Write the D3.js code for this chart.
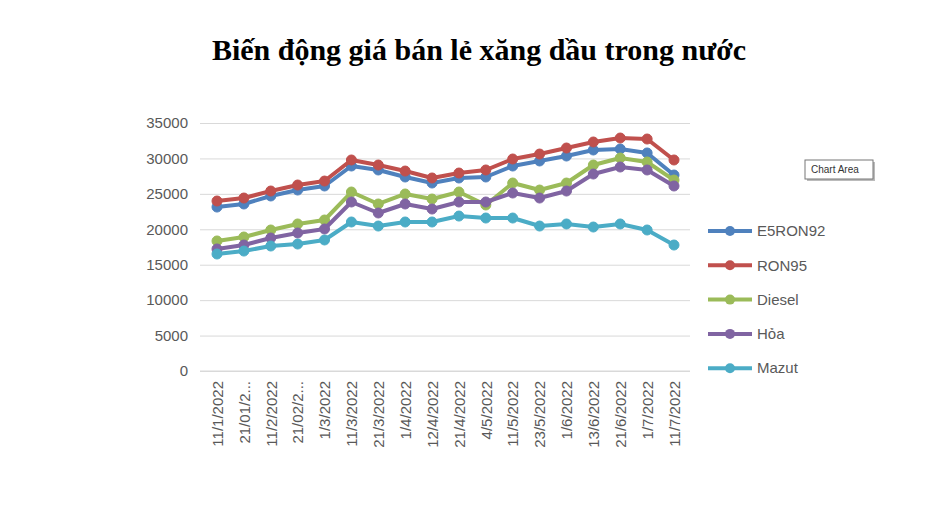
<!DOCTYPE html>
<html><head><meta charset="utf-8">
<script src="https://cdn.jsdelivr.net/npm/d3@7"></script>
<style>
body{margin:0;background:#fff}
text{font-family:"Liberation Sans",Arial,sans-serif}
</style></head><body>
<svg id="chart" width="925" height="516"></svg>
<script>
var categories = ["11/1/2022","21/01/2...","11/2/2022","21/02/2...","1/3/2022","11/3/2022","21/3/2022","1/4/2022","12/4/2022","21/4/2022","4/5/2022","11/5/2022","23/5/2022","1/6/2022","13/6/2022","21/6/2022","1/7/2022","11/7/2022"];
var e5ron92 = [23140,23570,24700,25540,26110,28930,28370,27380,26530,27240,27380,28930,29640,30340,31190,31330,30770,27660];
var ron95 = [23990,24410,25400,26250,26810,29780,29070,28220,27240,27940,28370,29920,30620,31470,32320,32880,32740,29780];
var diesel = [18350,18910,19900,20750,21310,25260,23570,24980,24270,25260,23430,26530,25540,26530,29070,30060,29500,26950];
var hoa = [17220,17780,18770,19480,20040,23850,22300,23570,22860,23850,23850,25120,24410,25400,27800,28790,28370,26110];
var mazut = [16510,16930,17640,17920,18490,21030,20460,21030,21030,21870,21590,21590,20460,20750,20320,20750,19900,17780];
var seriesNames = ["E5RON92","RON95","Diesel","Hỏa","Mazut"];
var colors = ["#4F81BD","#C0504D","#9BBB59","#8064A2","#4BACC6"];
var yTicks = [0,5000,10000,15000,20000,25000,30000,35000];

var svg = d3.select("#chart");
var series = [e5ron92, ron95, diesel, hoa, mazut];

svg.append("text").attr("x",479).attr("y",60).attr("text-anchor","middle")
  .style("font-family","'Liberation Serif','Times New Roman',serif")
  .style("font-weight","bold").style("font-size","30px").text("Biến động giá bán lẻ xăng dầu trong nước");

var x = d3.scalePoint().domain(categories).range([217,674]);
var y = d3.scaleLinear().domain([0,35000]).range([371,123]);

var gy = svg.append("g").attr("transform","translate(200,0)")
  .call(d3.axisLeft(y).tickValues(yTicks).tickFormat(d3.format("d")).tickSize(-490).tickPadding(12));
gy.select(".domain").remove();
gy.selectAll(".tick line").attr("stroke","#d9d9d9");
gy.selectAll(".tick text").attr("fill","#595959").style("font-size","15px");

var gx = svg.append("g").attr("transform","translate(0,371)")
  .call(d3.axisBottom(x).tickSize(0).tickPadding(0));
gx.select(".domain").attr("stroke","#d9d9d9").attr("d","M200,0H690");
gx.selectAll(".tick text").attr("fill","#595959").style("font-size","15px")
  .attr("text-anchor","end").attr("transform","rotate(-90)").attr("x",-10).attr("y",0).attr("dy","0.35em");

var line = d3.line().x(function(d,i){return x(categories[i]);}).y(function(d){return y(d);});
series.forEach(function(s,k){
  svg.append("path").datum(s).attr("d",line).attr("fill","none")
    .attr("stroke",colors[k]).attr("stroke-width",4).attr("stroke-linejoin","round");
  svg.selectAll(null).data(s).enter().append("circle")
    .attr("cx",function(d,i){return x(categories[i]);}).attr("cy",function(d){return y(d);})
    .attr("r",5).attr("fill",colors[k]).attr("stroke",colors[k]);
});

var leg = svg.append("g");
seriesNames.forEach(function(n,k){
  var ly = 231 + k*34.3;
  leg.append("line").attr("x1",708).attr("x2",752).attr("y1",ly).attr("y2",ly)
    .attr("stroke",colors[k]).attr("stroke-width",4);
  leg.append("circle").attr("cx",730).attr("cy",ly).attr("r",5).attr("fill",colors[k]);
  leg.append("text").attr("x",757).attr("y",ly).attr("dy","0.35em")
    .attr("fill","#595959").style("font-size","15px").text(n);
});

var tip = svg.append("g").attr("transform","translate(805,160)");
tip.append("rect").attr("x",2).attr("y",2).attr("width",68).attr("height",19).attr("fill","#bbb");
tip.append("rect").attr("width",68).attr("height",19).attr("fill","#fff").attr("stroke","#777");
tip.append("text").attr("x",6).attr("y",13).style("font-size","10px").attr("fill","#333").text("Chart Area");
</script>
</body></html>
